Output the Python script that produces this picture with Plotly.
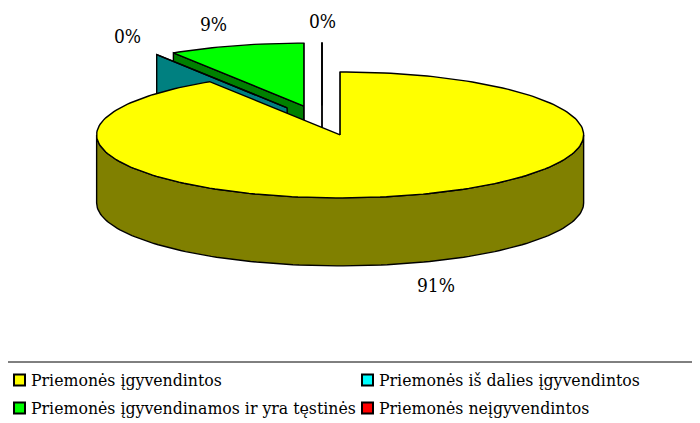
import math
import plotly.graph_objects as go

# ---- data ----
categories = ["Priemonės įgyvendintos",
              "Priemonės iš dalies įgyvendintos",
              "Priemonės įgyvendinamos ir yra tęstinės",
              "Priemonės neįgyvendintos"]
values = [91, 0, 9, 0]
top_colors = ["#FFFF00", "#00FFFF", "#00FF00", "#FF0000"]
side_colors = ["#808000", "#008080", "#008000", "#800000"]

# ---- geometry (pixel space of the 700x423 window) ----
W, H = 700, 423
PAGE_OFF = 8             # default body margin of the html page
CX, CY = 322, 120.5      # undisplaced pie centre (top face)
RX, RY = 243.5, 63       # ellipse radii of the top face
DEPTH = 68               # thickness of the pie
EX, EY = 65, 15          # explosion offset
LAB_GX, LAB_GY = 25, 22  # label distance outside the rim
FONT = "DejaVu Serif Condensed"
EDGE = dict(color="black", width=1.4)

total = float(sum(values))
fig = go.Figure()


def rim(c, th, dz=0.0):
    return c[0] + RX * math.sin(th), c[1] - RY * math.cos(th) + dz


def arc(c, a0, a1, dz=0.0):
    n = max(2, int(abs(a1 - a0) / (2 * math.pi) * 240) + 2)
    return [rim(c, a0 + (a1 - a0) * k / (n - 1), dz) for k in range(n)]


def poly(pts, fill):
    xs = [p[0] for p in pts] + [pts[0][0]]
    ys = [p[1] for p in pts] + [pts[0][1]]
    fig.add_trace(go.Scatter(x=xs, y=ys, mode="lines", fill="toself",
                             fillcolor=fill, line=EDGE, hoverinfo="skip",
                             showlegend=False))


slices = []
acc = 0.0
for i, v in enumerate(values):
    a0 = acc / total * 2 * math.pi
    acc += v
    a1 = acc / total * 2 * math.pi
    m = (a0 + a1) / 2
    c = (CX + EX * math.sin(m), CY - EY * math.cos(m))
    slices.append(dict(i=i, a0=a0, a1=a1, m=m, c=c))

# paint back-to-front
for s in sorted(slices, key=lambda s: s["c"][1]):
    i, a0, a1, c = s["i"], s["a0"], s["a1"], s["c"]
    apex_t = c
    apex_b = (c[0], c[1] + DEPTH)
    for ang, sign in ((a0, -1), (a1, 1)):
        facing = sign * math.sin(ang)
        if facing > -1e-9 or abs(math.sin(ang)) < 1e-9:
            pt = rim(c, ang)
            pb = rim(c, ang, DEPTH)
            poly([apex_t, pt, pb, apex_b], side_colors[i])
    lo, hi = max(a0, math.pi / 2), min(a1, 3 * math.pi / 2)
    if hi > lo:
        top = arc(c, lo, hi)
        bot = arc(c, lo, hi, DEPTH)
        poly(top + bot[::-1], side_colors[i])
    poly([apex_t] + arc(c, a0, a1), top_colors[i])

# data labels
for s in slices:
    i, m, c = s["i"], s["m"], s["c"]
    sx, cy_ = math.sin(m), math.cos(m)
    lx = c[0] + (RX + LAB_GX) * sx
    ly = c[1] - (RY + LAB_GY) * cy_ + (DEPTH if cy_ < 0 else 0)
    xa = "left" if sx > 0.05 else ("right" if sx < -0.05 else "center")
    fig.add_annotation(x=lx, y=ly, text=f"{round(values[i] / total * 100)}%",
                       xref="x", yref="y", xanchor=xa, yanchor="middle",
                       showarrow=False,
                       font=dict(family=FONT, size=19, color="black"))

# legend
fig.add_shape(type="rect", xref="x", yref="y", x0=4, x1=730, y0=362, y1=445,
              line=dict(color="black", width=1), fillcolor="rgba(0,0,0,0)")
col_x = [14, 362]
row_y = [380, 408]
for i, lab in enumerate(categories):
    x0 = col_x[i % 2]
    yc = row_y[i // 2]
    fig.add_shape(type="rect", xref="x", yref="y", x0=x0, x1=x0 + 11,
                  y0=yc - 5.5, y1=yc + 5.5,
                  line=dict(color="black", width=2), fillcolor=top_colors[i])
    fig.add_annotation(x=x0 + 15, y=yc, text=lab, xref="x", yref="y",
                       xanchor="left", yanchor="middle", showarrow=False,
                       font=dict(family=FONT, size=17.5, color="black"))

fig.update_layout(
    width=W, height=H, margin=dict(l=0, r=0, t=0, b=0),
    paper_bgcolor="white", plot_bgcolor="white", showlegend=False,
    xaxis=dict(range=[PAGE_OFF, W + PAGE_OFF], visible=False, fixedrange=True),
    yaxis=dict(range=[H + PAGE_OFF, PAGE_OFF], visible=False, fixedrange=True),
)
fig.write_html("out.html")
